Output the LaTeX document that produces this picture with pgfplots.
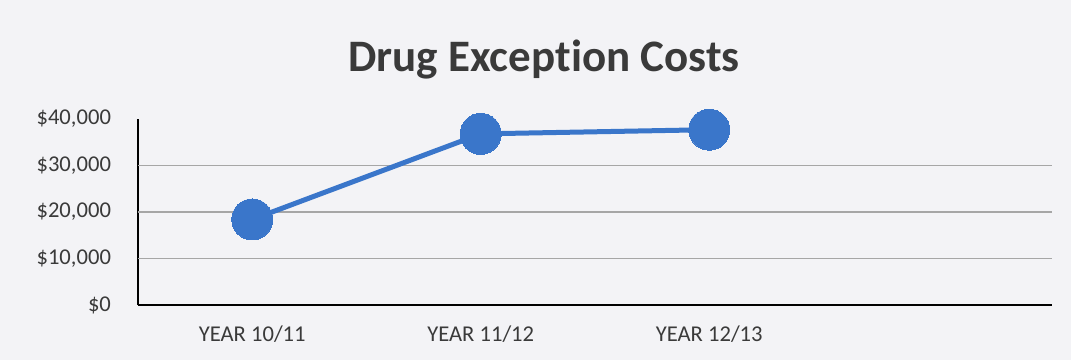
\documentclass[border=0pt]{standalone}
\usepackage{pgfplots}
\pgfplotsset{compat=1.18}
\usepackage{fontspec}
\setmainfont[Ligatures=NoCommon]{Carlito}
\definecolor{bg}{HTML}{F3F3F6}
\definecolor{ser}{HTML}{3A76CA}
\definecolor{txt}{HTML}{3A3A3A}
\begin{document}
\begin{tikzpicture}
\path[use as bounding box, fill=bg] (0,0) rectangle (535.5pt,180pt);
\node[font=\fontsize{22.5pt}{26pt}\selectfont\bfseries, text=txt] at (272pt,150pt) {Drug Exception Costs};
\begin{axis}[
  at={(69pt,27.5pt)}, anchor=south west,
  scale only axis, width=457pt, height=93pt,
  xmin=-0.5, xmax=3.5, ymin=0, ymax=40000,
  scaled ticks=false,
  xtick={0,1,2}, xticklabels={YEAR 10/11, YEAR 11/12, YEAR 12/13},
  ytick={0,10000,20000,30000,40000},
  yticklabels={{\$0},{\$10,000},{\$20,000},{\$30,000},{\$40,000}},
  extra y ticks={10000,20000,30000},
  extra y tick labels={},
  extra y tick style={grid=major, major grid style={gray!70, line width=0.6pt}, major tick length=0pt},
  axis x line=bottom, axis y line=left,
  axis line style={black, line width=0.6pt, -},
  x axis line style={line width=1.2pt},
  major tick length=0pt,
  tick label style={font=\fontsize{11.3pt}{13pt}\selectfont, text=txt},
  yticklabel style={xshift=-10pt},
  xticklabel style={yshift=-7pt},
  clip=false,
]
\addplot[ser, line width=2.5pt, mark=*, mark size=10.25pt, mark options={fill=ser, draw=ser, line width=0pt}]
 coordinates {(0,18400) (1,36800) (2,37700)};
\end{axis}
\end{tikzpicture}
\end{document}
